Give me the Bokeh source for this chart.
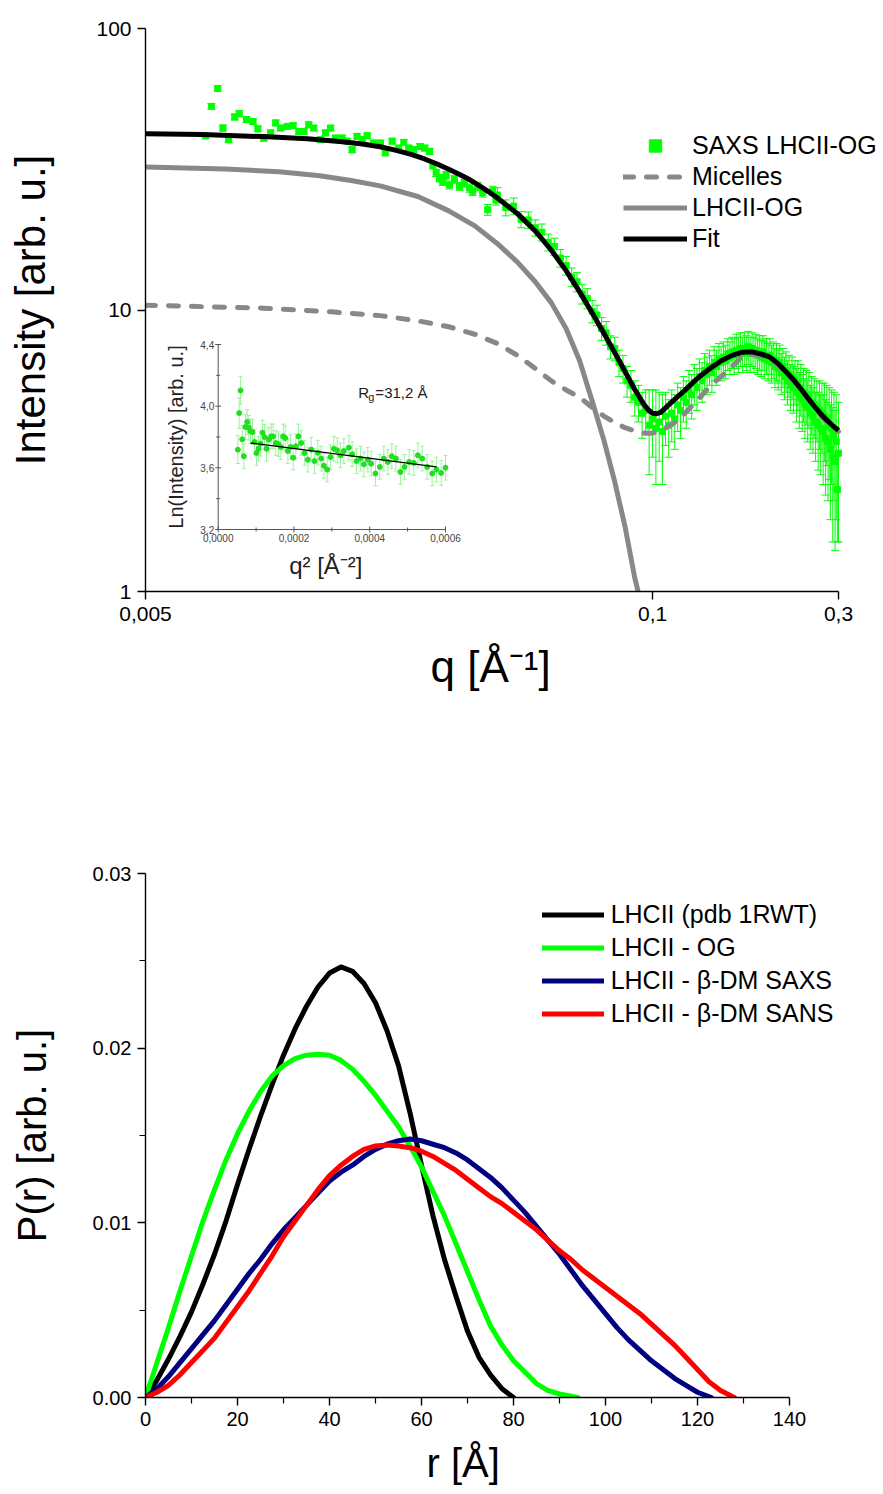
import numpy as np
from bokeh.plotting import figure
from bokeh.layouts import column
from bokeh.models import (Range1d, LinearScale, FixedTicker, CustomJSTickFormatter,
                          Legend, LegendItem, NumeralTickFormatter, Title)
from bokeh.core.properties import value
from bokeh.embed import file_html
from bokeh.resources import INLINE

FONT = "Liberation Sans"
GREEN = "#00ff00"

# ---------------- top panel data ----------------
saxs_q_low = [0.00713, 0.00738, 0.00766, 0.00790, 0.00817, 0.00847, 0.00870, 0.00908, 0.00944, 0.00971,
              0.01006, 0.01047, 0.01079, 0.01111, 0.01156, 0.01196, 0.01237, 0.01274, 0.01312, 0.01351,
              0.01407, 0.01449, 0.01492, 0.01537, 0.01597, 0.01645, 0.01695, 0.01745, 0.01799, 0.01853,
              0.01925, 0.02004, 0.02062, 0.02147, 0.02233, 0.02300, 0.02368, 0.02438, 0.02532, 0.02603,
              0.02678, 0.02731, 0.02785, 0.02840, 0.02896, 0.02954, 0.03012, 0.03102, 0.03195, 0.03291,
              0.03390, 0.03456, 0.03560, 0.03667, 0.03776, 0.03889, 0.03964]
saxs_I_low = [41.6, 52.9, 61.2, 44.3, 40.3, 48.5, 49.8, 47.5, 46.7, 44.0,
              40.8, 42.6, 46.2, 44.3, 44.9, 45.2, 43.1, 43.1, 45.5, 44.3,
              40.3, 42.6, 44.3, 40.8, 40.8, 39.8, 37.1, 41.4, 40.4, 41.6,
              39.2, 39.2, 36.2, 39.8, 37.6, 39.4, 37.6, 37.1, 38.1, 37.6,
              36.6, 32.6, 30.7, 29.4, 28.6, 30.1, 27.8, 29.1, 27.5, 28.2,
              27.1, 26.4, 27.5, 26.1, 22.7, 26.5, 24.6]
saxs_err_low = [1.0, 1.2, 1.3, 1.1, 1.0, 1.2, 1.2, 1.1, 1.1, 1.0,
                1.0, 1.0, 1.1, 1.0, 1.0, 1.0, 1.0, 1.0, 1.0, 1.0,
                1.0, 1.0, 1.0, 1.0, 1.0, 0.9, 0.9, 0.9, 0.9, 0.9,
                0.9, 0.9, 0.9, 0.9, 0.9, 0.9, 0.9, 0.9, 0.9, 0.9,
                0.9, 0.9, 0.9, 0.9, 0.9, 0.9, 0.9, 0.9, 0.9, 0.9,
                0.9, 0.9, 0.9, 0.9, 1.0, 1.0, 1.0]

saxs_q_high = [0.040, 0.042, 0.044, 0.046, 0.048, 0.050, 0.052, 0.054, 0.056, 0.058, 0.060,
               0.062, 0.064, 0.066, 0.068, 0.070, 0.072, 0.074, 0.076, 0.078, 0.080,
               0.082, 0.084, 0.086, 0.088, 0.090, 0.092, 0.094, 0.096, 0.098, 0.100,
               0.102, 0.104, 0.106, 0.108, 0.110, 0.112, 0.114, 0.116, 0.118, 0.120,
               0.122, 0.124, 0.126, 0.128, 0.130, 0.132, 0.134, 0.136, 0.138, 0.140,
               0.142, 0.144, 0.146, 0.148, 0.150, 0.152, 0.154, 0.156, 0.158, 0.160,
               0.162, 0.164, 0.166, 0.168, 0.170, 0.172, 0.174, 0.176, 0.178, 0.180,
               0.182, 0.184, 0.186, 0.188, 0.190, 0.192, 0.194, 0.196, 0.198, 0.200,
               0.202, 0.204, 0.206, 0.208, 0.210, 0.212, 0.214, 0.216, 0.218, 0.220,
               0.222, 0.224, 0.226, 0.228, 0.230, 0.232, 0.234, 0.236, 0.238, 0.240,
               0.242, 0.244, 0.246, 0.248, 0.250, 0.252, 0.254, 0.256, 0.258, 0.260,
               0.262, 0.264, 0.266, 0.268, 0.270, 0.272, 0.274, 0.276, 0.278, 0.280,
               0.282, 0.284, 0.286, 0.288, 0.290, 0.292, 0.294, 0.296, 0.298, 0.300]
saxs_I_high = [25.6, 23.1, 23.4, 21.0, 20.9, 19.6, 18.9, 17.4, 16.8, 15.3, 14.4,
               13.1, 12.6, 11.4, 11.0, 9.9, 9.6, 8.6, 8.3, 7.4, 7.3,
               6.5, 6.2, 5.6, 5.4, 4.9, 4.7, 4.3, 4.4, 3.9, 4.1,
               3.8, 4.0, 3.7, 4.2, 3.9, 4.3, 4.1, 4.6, 4.4, 4.9,
               4.7, 5.2, 5.0, 5.5, 5.3, 5.8, 5.6, 6.1, 5.9, 6.3,
               6.0, 6.5, 6.3, 6.7, 6.5, 6.8, 6.6, 7.0, 6.8, 7.1,
               6.9, 7.2, 7.0, 7.3, 7.0, 7.3, 7.1, 7.4, 7.0, 7.3,
               7.0, 7.2, 6.9, 7.1, 6.8, 7.1, 6.7, 6.9, 6.6, 6.9,
               6.5, 6.7, 6.3, 6.6, 6.2, 6.5, 6.0, 6.3, 5.8, 6.1,
               5.6, 5.9, 5.4, 5.8, 5.3, 5.6, 5.1, 5.5, 4.9, 5.3,
               4.8, 5.1, 4.6, 5.0, 4.5, 4.9, 4.3, 4.7, 4.2, 4.6,
               4.0, 4.5, 3.9, 4.4, 3.8, 4.3, 3.7, 4.2, 3.5, 4.1,
               3.4, 3.9, 3.2, 3.8, 3.0, 3.6, 2.9, 3.4, 2.3, 3.1]
saxs_err_high = [1.6, 1.5, 1.6, 1.4, 1.4, 1.3, 1.3, 1.2, 1.2, 1.1, 1.1,
                 1.0, 1.0, 0.9, 0.9, 0.9, 0.8, 0.8, 0.8, 0.7, 0.7,
                 0.7, 0.7, 0.7, 0.7, 0.7, 0.7, 0.8, 0.8, 1.3, 1.1,
                 1.4, 1.1, 1.3, 0.9, 0.9, 0.9, 0.9, 0.9, 0.9, 0.9,
                 0.9, 0.9, 0.9, 0.9, 0.9, 0.9, 0.9, 0.9, 0.9, 0.9,
                 0.9, 0.9, 0.9, 0.9, 0.9, 0.9, 0.9, 0.9, 0.9, 0.9,
                 1.0, 1.0, 1.0, 1.0, 1.0, 1.0, 1.0, 1.0, 1.0, 1.0,
                 1.0, 1.0, 1.0, 1.0, 1.0, 1.0, 1.0, 1.0, 1.0, 1.0,
                 1.0, 1.0, 1.0, 1.0, 1.0, 1.0, 1.0, 1.0, 1.0, 1.0,
                 1.0, 1.0, 1.0, 1.0, 1.0, 1.0, 1.1, 1.1, 1.1, 1.1,
                 1.1, 1.1, 1.1, 1.1, 1.1, 1.1, 1.1, 1.1, 1.1, 1.1,
                 1.1, 1.1, 1.2, 1.2, 1.2, 1.2, 1.3, 1.3, 1.3, 1.3,
                 1.3, 1.4, 1.4, 1.4, 1.5, 1.5, 1.5, 1.6, 0.8, 1.6]

fit_q = [0.005, 0.007, 0.010, 0.013, 0.016, 0.018, 0.020, 0.022, 0.024, 0.026, 0.028, 0.030,
         0.032, 0.034, 0.036, 0.038, 0.040, 0.045, 0.050, 0.055, 0.060, 0.065, 0.070, 0.075,
         0.080, 0.085, 0.090, 0.095, 0.0975, 0.100, 0.1025, 0.105, 0.110, 0.115, 0.120, 0.130,
         0.140, 0.150, 0.160, 0.170, 0.180, 0.190, 0.200, 0.210, 0.220, 0.230, 0.240, 0.250,
         0.260, 0.270, 0.280, 0.290, 0.300]
fit_I = [42.3, 42.0, 41.3, 40.6, 39.6, 38.9, 38.0, 36.9, 35.7, 34.4, 33.0, 31.6,
         30.3, 29.0, 27.6, 26.3, 25.0, 22.0, 19.1, 16.3, 13.8, 11.6, 9.75, 8.26,
         7.05, 6.05, 5.22, 4.62, 4.42, 4.30, 4.28, 4.33, 4.60, 4.87, 5.13, 5.70,
         6.18, 6.60, 6.90, 7.08, 7.10, 6.98, 6.80, 6.45, 6.03, 5.65, 5.25, 4.88,
         4.55, 4.28, 4.06, 3.88, 3.74]

mic_q = [0.005, 0.010, 0.015, 0.020, 0.025, 0.030, 0.035, 0.040, 0.045, 0.050, 0.055, 0.060,
         0.065, 0.070, 0.075, 0.080, 0.085, 0.090, 0.095, 0.100, 0.105, 0.110, 0.115, 0.120,
         0.130, 0.140, 0.150, 0.160, 0.170, 0.180, 0.190, 0.200, 0.210, 0.220, 0.230, 0.240,
         0.250, 0.260, 0.270, 0.280, 0.290, 0.300]
mic_I = [10.4, 10.15, 9.85, 9.55, 9.15, 8.72, 8.2, 7.6, 6.9, 6.2, 5.6, 5.2,
         4.9, 4.5, 4.2, 3.98, 3.82, 3.72, 3.66, 3.65, 3.74, 3.86, 4.02, 4.25,
         4.75, 5.35, 5.8, 6.3, 6.85, 6.95, 6.88, 6.7, 6.37, 5.96, 5.59, 5.2,
         4.83, 4.5, 4.23, 4.01, 3.83, 3.7]

lhc_q = [0.005, 0.008, 0.011, 0.014, 0.017, 0.020, 0.025, 0.030, 0.035, 0.040, 0.045, 0.050,
         0.055, 0.060, 0.065, 0.070, 0.075, 0.080, 0.085, 0.090, 0.093]
lhc_I = [32.2, 31.7, 31.0, 30.0, 28.8, 27.6, 25.3, 22.5, 19.9, 17.2, 14.8, 12.6,
         10.6, 8.6, 6.6, 4.75, 3.45, 2.45, 1.7, 1.12, 0.93]

q_ticks = [0.005, 0.1, 0.3]
I_ticks = [1, 10, 100]

# inset (Guinier plot)
ins_q2 = [0.0000519, 0.0000554, 0.0000590, 0.0000634, 0.0000677, 0.0000720, 0.0000765, 0.0000810,
          0.0000853, 0.0000906, 0.0000959, 0.0001012, 0.0001065, 0.0001117, 0.0001170, 0.0001223,
          0.0001276, 0.0001337, 0.0001399, 0.0001450, 0.0001522, 0.0001592, 0.0001654, 0.0001716,
          0.0001768, 0.0001839, 0.0001909, 0.0001980, 0.0002050, 0.0002120, 0.0002190, 0.0002279,
          0.0002367, 0.0002455, 0.0002543, 0.0002630, 0.0002718, 0.0002789, 0.0002877, 0.0002965,
          0.0003052, 0.0003140, 0.0003228, 0.0003317, 0.0003449, 0.0003537, 0.0003651, 0.0003757,
          0.0003845, 0.0003950, 0.0004038, 0.0004152, 0.0004267, 0.0004372, 0.0004478, 0.0004584,
          0.0004689, 0.0004810, 0.0004917, 0.0005040, 0.0005164, 0.0005270, 0.0005384, 0.0005516,
          0.0005648, 0.0005762, 0.0005886, 0.0006000]
ins_lnI = [3.718, 3.955, 4.102, 3.785, 3.675, 3.865, 3.897, 3.860, 3.837, 3.832, 3.768, 3.696,
           3.724, 3.757, 3.828, 3.800, 3.724, 3.783, 3.804, 3.804, 3.761, 3.753, 3.735, 3.804,
           3.793, 3.709, 3.735, 3.666, 3.740, 3.804, 3.761, 3.696, 3.653, 3.718, 3.644, 3.698,
           3.660, 3.614, 3.589, 3.670, 3.724, 3.714, 3.681, 3.709, 3.731, 3.688, 3.644, 3.660,
           3.623, 3.653, 3.627, 3.563, 3.606, 3.660, 3.638, 3.675, 3.660, 3.573, 3.606, 3.638,
           3.632, 3.681, 3.660, 3.606, 3.563, 3.589, 3.567, 3.601]
ins_err = [0.09, 0.10, 0.09, 0.09, 0.08, 0.08, 0.08, 0.08, 0.08, 0.08, 0.08, 0.08,
           0.08, 0.08, 0.08, 0.08, 0.08, 0.08, 0.08, 0.08, 0.08, 0.08, 0.08, 0.08,
           0.08, 0.08, 0.08, 0.08, 0.08, 0.08, 0.08, 0.08, 0.08, 0.08, 0.08, 0.08,
           0.08, 0.08, 0.08, 0.08, 0.08, 0.08, 0.08, 0.08, 0.08, 0.08, 0.08, 0.08,
           0.08, 0.08, 0.08, 0.08, 0.08, 0.08, 0.08, 0.08, 0.08, 0.08, 0.08, 0.08,
           0.08, 0.08, 0.08, 0.08, 0.08, 0.08, 0.08, 0.08]
ins_fit_q2 = [0.0000853, 0.0005762]
ins_fit_lnI = [3.761, 3.606]
ins_x_ticks = [0.0, 0.0002, 0.0004, 0.0006]
ins_x_labels = ["0,0000", "0,0002", "0,0004", "0,0006"]
ins_x_minor = [0.0001, 0.0003, 0.0005]
ins_y_ticks = [3.2, 3.6, 4.0, 4.4]
ins_y_labels = ["3,2", "3,6", "4,0", "4,4"]
ins_y_minor = [3.4, 3.8, 4.2]

# ---------------- bottom panel data ----------------
r_pdb = [0, 2.5, 5, 7.5, 10, 12.5, 15, 17.5, 20, 22.5, 25, 27.5, 30, 32.5, 35, 37.5, 40, 42.5,
         45, 47.5, 50, 52.5, 55, 57.5, 60, 62.5, 65, 67.5, 70, 72.5, 75, 77.5, 80]
p_pdb = [0, 0.0010, 0.0022, 0.0035, 0.0049, 0.0065, 0.0082, 0.0101, 0.0122, 0.0142, 0.0161,
         0.0179, 0.0196, 0.0211, 0.0224, 0.0235, 0.0243, 0.02465, 0.0244, 0.0237, 0.0226,
         0.0210, 0.0190, 0.0163, 0.0133, 0.0104, 0.0079, 0.0058, 0.0038, 0.0023, 0.0013,
         0.0005, 0]
r_og = [0, 2.5, 5, 7.5, 10, 12.5, 15, 17.5, 20, 22.5, 25, 27.5, 30, 32.5, 35, 37.5, 40, 42.5,
        45, 47.5, 50, 52.5, 55, 57.5, 60, 62.5, 65, 67.5, 70, 72.5, 75, 77.5, 80, 85, 87.5,
        90, 94]
p_og = [0, 0.0020, 0.0040, 0.0061, 0.0081, 0.0101, 0.0119, 0.0136, 0.0151, 0.0164, 0.0175,
        0.0184, 0.0190, 0.0194, 0.0196, 0.01965, 0.0196, 0.0193, 0.0188, 0.0181, 0.0173,
        0.0164, 0.0155, 0.0144, 0.0132, 0.0118, 0.0104, 0.0088, 0.0072, 0.0056, 0.0041,
        0.0030, 0.0021, 0.0008, 0.0004, 0.0002, 0]
r_saxs = [0, 2.5, 5, 7.5, 10, 12.5, 15, 17.5, 20, 22.5, 25, 27.5, 30, 32.5, 35, 37.5, 40, 42.5,
          45, 47.5, 50, 52.5, 55, 57.5, 60, 62.5, 65, 67.5, 70, 72.5, 75, 77.5, 80, 82.5, 85,
          87.5, 90, 92.5, 95, 97.5, 100, 102.5, 105, 107.5, 110, 112.5, 115, 117.5, 120, 123]
p_saxs = [0, 0.0005, 0.0012, 0.0020, 0.0028, 0.0036, 0.0044, 0.0053, 0.0062, 0.0071, 0.0079,
          0.0088, 0.0096, 0.0103, 0.0110, 0.0117, 0.0124, 0.0129, 0.0133, 0.0138, 0.0142,
          0.0145, 0.0147, 0.0148, 0.0147, 0.0145, 0.0143, 0.0140, 0.0136, 0.0131, 0.0126,
          0.0120, 0.0113, 0.0106, 0.0098, 0.0090, 0.0082, 0.0073, 0.0064, 0.0056, 0.0048,
          0.0040, 0.0033, 0.0027, 0.0021, 0.0016, 0.0011, 0.0007, 0.0003, 0]
r_sans = [0, 2.5, 5, 7.5, 10, 12.5, 15, 17.5, 20, 22.5, 25, 27.5, 30, 32.5, 35, 37.5, 40, 42.5,
          45, 47.5, 50, 52.5, 55, 57.5, 60, 62.5, 65, 67.5, 70, 72.5, 75, 77.5, 80, 82.5, 85,
          87.5, 90, 92.5, 95, 97.5, 100, 102.5, 105, 107.5, 110, 112.5, 115, 117.5, 120, 122.5,
          125, 128]
p_sans = [0, 0.0003, 0.0007, 0.0013, 0.0020, 0.0027, 0.0034, 0.0043, 0.0052, 0.0061, 0.0071,
          0.0081, 0.0092, 0.0101, 0.0110, 0.0119, 0.0127, 0.0133, 0.0138, 0.0142, 0.0144,
          0.01446, 0.0144, 0.0143, 0.0141, 0.0138, 0.0134, 0.0130, 0.0125, 0.0120, 0.0115,
          0.0111, 0.0106, 0.0101, 0.0096, 0.0090, 0.0084, 0.0079, 0.0073, 0.0068, 0.0063,
          0.0058, 0.0053, 0.0048, 0.0042, 0.0036, 0.0030, 0.0023, 0.0016, 0.0009, 0.0004, 0]
r_ticks = [0, 20, 40, 60, 80, 100, 120, 140]
r_minor = [10, 30, 50, 70, 90, 110, 130]
p_ticks = [0.0, 0.01, 0.02, 0.03]
p_minor = [0.005, 0.015, 0.025]

# ---------------- layout constants (px) ----------------
F1_LEFT, F1_TOP, F1_AXW, F1_W, F1_H = 145, 28, 693, 738, 563   # axis length 693, frame 738
IN_L, IN_R, IN_T, IN_B = 72.7, 300.0, 316.0, 501.0              # inset box inside frame 1
F2_LEFT, F2_AXW, F2_W, F2_H = 141, 644, 742, 524


def style_axes(p, tick_font, label_font):
    for ax in (p.xaxis[0], p.yaxis[0]):
        ax.axis_line_color = "black"
        ax.axis_line_width = 1.4
        ax.major_tick_line_color = "black"
        ax.major_tick_line_width = 1.4
        ax.major_tick_out = 8
        ax.major_tick_in = 0
        ax.minor_tick_line_color = "black"
        ax.minor_tick_line_width = 1.2
        ax.minor_tick_out = 6
        ax.minor_tick_in = 0
        ax.major_label_text_font = FONT
        ax.major_label_text_font_size = tick_font
        ax.major_label_text_color = "black"
        ax.axis_label_text_font = FONT
        ax.axis_label_text_font_size = label_font
        ax.axis_label_text_font_style = "normal"
        ax.axis_label_text_color = "black"
    p.xgrid.visible = False
    p.ygrid.visible = False
    p.outline_line_color = None


def x_title(text, size, offset, standoff):
    t = Title(text=text, align="left", offset=offset, text_font=FONT, text_font_size=size,
              text_font_style="normal", text_color="black")
    try:
        t.standoff = standoff
    except AttributeError:
        pass
    return t


# ================= top figure =================
q_end = q_ticks[-1] * (q_ticks[-1] / q_ticks[0]) ** ((F1_W - F1_AXW) / F1_AXW)
p1 = figure(x_axis_type="log", y_axis_type="log",
            x_range=Range1d(q_ticks[0], q_end), y_range=Range1d(1, 100),
            frame_width=F1_W, frame_height=F1_H,
            min_border_left=F1_LEFT, min_border_right=0, min_border_top=F1_TOP, min_border_bottom=130,
            output_backend="svg", toolbar_location=None)
style_axes(p1, "21px", "42px")
p1.xaxis.bounds = (q_ticks[0], q_ticks[-1])
p1.xaxis.ticker = FixedTicker(ticks=q_ticks)
p1.xaxis.formatter = CustomJSTickFormatter(code="return tick.toString().replace('.', ',');")
p1.yaxis.ticker = FixedTicker(ticks=I_ticks)
p1.yaxis.formatter = CustomJSTickFormatter(code="return tick.toFixed(0);")
p1.xaxis.minor_tick_line_color = None
p1.yaxis.minor_tick_line_color = None
p1.yaxis.axis_label = "Intensity [arb. u.]"
p1.yaxis.axis_label_standoff = 39
p1.xaxis.major_label_standoff = 7
p1.yaxis.major_label_standoff = 6
p1.add_layout(x_title("q [Å⁻¹]", "44px", 285, 33), "below")

saxs_q = saxs_q_low + saxs_q_high
saxs_I = saxs_I_low + saxs_I_high
saxs_err = saxs_err_low + saxs_err_high
hi = [v + e for v, e in zip(saxs_I, saxs_err)]
lo = [v - e for v, e in zip(saxs_I, saxs_err)]

p1.segment(x0=saxs_q, y0=lo, x1=saxs_q, y1=hi, line_color=GREEN, line_width=1)
p1.scatter(saxs_q, hi, marker="dash", size=8, line_color=GREEN, line_width=1)
p1.scatter(saxs_q, lo, marker="dash", size=8, line_color=GREEN, line_width=1)
r_pts = p1.scatter(saxs_q, saxs_I, marker="square", size=6, fill_color=GREEN, line_color=GREEN)
r_mic = p1.line(mic_q, mic_I, line_color="#888888", line_width=5, line_dash="10 13", line_cap="round")
r_lhc = p1.line(lhc_q, lhc_I, line_color="#888888", line_width=5, line_join="round")
r_fit = p1.line(fit_q, fit_I, line_color="black", line_width=5, line_join="round")

leg1 = Legend(items=[LegendItem(label="SAXS LHCII-OG", renderers=[r_pts]),
                     LegendItem(label="Micelles", renderers=[r_mic]),
                     LegendItem(label="LHCII-OG", renderers=[r_lhc]),
                     LegendItem(label="Fit", renderers=[r_fit])],
              location=(478, 337), glyph_width=64, glyph_height=31, label_height=31,
              spacing=0, padding=0, margin=0, label_standoff=5,
              label_text_font=FONT, label_text_font_size="25px", label_text_color="black",
              border_line_color=None, background_fill_alpha=0)
p1.add_layout(leg1)

# ---- inset drawn inside the top frame through its own linear scales ----
sx = (IN_R - IN_L) / (ins_x_ticks[-1] - ins_x_ticks[0])
sy = (IN_B - IN_T) / (ins_y_ticks[-1] - ins_y_ticks[0])
p1.extra_x_ranges = {"ix": Range1d(ins_x_ticks[0] - IN_L / sx, ins_x_ticks[-1] + (F1_W - IN_R) / sx)}
p1.extra_y_ranges = {"iy": Range1d(ins_y_ticks[0] - (F1_H - IN_B) / sy, ins_y_ticks[-1] + IN_T / sy)}
p1.extra_x_scales = {"ix": LinearScale()}
p1.extra_y_scales = {"iy": LinearScale()}
IK = dict(x_range_name="ix", y_range_name="iy")
AXC = "#555555"
x0, x1 = ins_x_ticks[0], ins_x_ticks[-1]
y0, y1 = ins_y_ticks[0], ins_y_ticks[-1]
p1.segment(x0=[x0, x0], y0=[y0, y0], x1=[x0, x1], y1=[y1, y0], line_color=AXC, line_width=1, **IK)
p1.scatter([x0] * len(ins_y_ticks), ins_y_ticks, marker="dash", size=6, line_color=AXC, **IK)
p1.scatter([x0] * len(ins_y_minor), ins_y_minor, marker="dash", size=4, line_color=AXC, **IK)
p1.scatter(ins_x_ticks, [y0] * len(ins_x_ticks), marker="dash", angle=np.pi / 2, size=6, line_color=AXC, **IK)
p1.scatter(ins_x_minor, [y0] * len(ins_x_minor), marker="dash", angle=np.pi / 2, size=4, line_color=AXC, **IK)
p1.text(x=[x0] * len(ins_y_ticks), y=ins_y_ticks, text=ins_y_labels, x_offset=-4,
        text_align="right", text_baseline="middle", text_font=value(FONT), text_font_size="10px",
        text_color="#444444", **IK)
p1.text(x=ins_x_ticks, y=[y0] * len(ins_x_ticks), text=ins_x_labels, y_offset=4,
        text_align="center", text_baseline="top", text_font=value(FONT), text_font_size="10px",
        text_color="#444444", **IK)
p1.text(x=[x0], y=[3.8], text=["Ln(Intensity) [arb. u.]"], x_offset=-42, angle=np.pi / 2,
        text_align="center", text_baseline="middle", text_font=value(FONT), text_font_size="20px",
        text_color="#222222", **IK)
p1.text(x=[(x0 + x1) / 2], y=[y0], text=["q² [Å⁻²]"], x_offset=-6, y_offset=36,
        text_align="center", text_baseline="middle", text_font=value(FONT), text_font_size="24px",
        text_color="#222222", **IK)
ins_hi = [v + e for v, e in zip(ins_lnI, ins_err)]
ins_lo = [v - e for v, e in zip(ins_lnI, ins_err)]
p1.segment(x0=ins_q2, y0=ins_lo, x1=ins_q2, y1=ins_hi, line_color="#9cf59c", line_width=1, **IK)
p1.scatter(ins_q2, ins_hi, marker="dash", size=4, line_color="#9cf59c", **IK)
p1.scatter(ins_q2, ins_lo, marker="dash", size=4, line_color="#9cf59c", **IK)
p1.scatter(ins_q2, ins_lnI, marker="circle", size=5, fill_color="#22dd22", line_color="#22dd22", **IK)
p1.line(ins_fit_q2, ins_fit_lnI, line_color="black", line_width=1.3, **IK)
rg_x, rg_y = 0.00037, 4.09
p1.text(x=[rg_x], y=[rg_y], text=["R"], text_align="left", text_baseline="middle",
        text_font=value(FONT), text_font_size="15px", text_color="#222222", **IK)
p1.text(x=[rg_x], y=[rg_y], text=["g"], x_offset=10, y_offset=5, text_align="left",
        text_baseline="middle", text_font=value(FONT), text_font_size="11px", text_color="#222222", **IK)
p1.text(x=[rg_x], y=[rg_y], text=["=31,2 Å"], x_offset=17, text_align="left",
        text_baseline="middle", text_font=value(FONT), text_font_size="15px", text_color="#222222", **IK)

# ================= bottom figure =================
r_end = r_ticks[-1] * F2_W / F2_AXW
p2 = figure(x_range=Range1d(r_ticks[0], r_end), y_range=Range1d(p_ticks[0], p_ticks[-1]),
            frame_width=F2_W, frame_height=F2_H,
            min_border_left=F2_LEFT, min_border_right=0, min_border_top=152, min_border_bottom=90,
            output_backend="svg", toolbar_location=None)
style_axes(p2, "20px", "40px")
p2.xaxis.bounds = (r_ticks[0], r_ticks[-1])
p2.xaxis.ticker = FixedTicker(ticks=r_ticks, minor_ticks=r_minor)
p2.yaxis.ticker = FixedTicker(ticks=p_ticks, minor_ticks=p_minor)
p2.yaxis.formatter = NumeralTickFormatter(format="0.00")
p2.yaxis.axis_label = "P(r) [arb. u.]"
p2.yaxis.axis_label_standoff = 36
p2.xaxis.major_label_standoff = 6
p2.yaxis.major_label_standoff = 6
p2.add_layout(x_title("r [Å]", "40px", 281, 20), "below")

lk = dict(line_width=5, line_cap="round", line_join="round")
l_pdb = p2.line(r_pdb, p_pdb, line_color="black", **lk)
l_og = p2.line(r_og, p_og, line_color="#00ff00", **lk)
l_saxs = p2.line(r_saxs, p_saxs, line_color="#000080", **lk)
l_sans = p2.line(r_sans, p_sans, line_color="#ff0000", **lk)

leg2 = Legend(items=[LegendItem(label="LHCII (pdb 1RWT)", renderers=[l_pdb]),
                     LegendItem(label="LHCII - OG", renderers=[l_og]),
                     LegendItem(label="LHCII - β-DM SAXS", renderers=[l_saxs]),
                     LegendItem(label="LHCII - β-DM SANS", renderers=[l_sans])],
              location=(402, 367), glyph_width=62, glyph_height=33, label_height=33,
              spacing=0, padding=0, margin=0, label_standoff=7,
              label_text_font=FONT, label_text_font_size="25px", label_text_color="black",
              border_line_color=None, background_fill_alpha=0)
p2.add_layout(leg2)

layout = column(p1, p2)
open("out.html", "w").write(file_html(layout, INLINE))
